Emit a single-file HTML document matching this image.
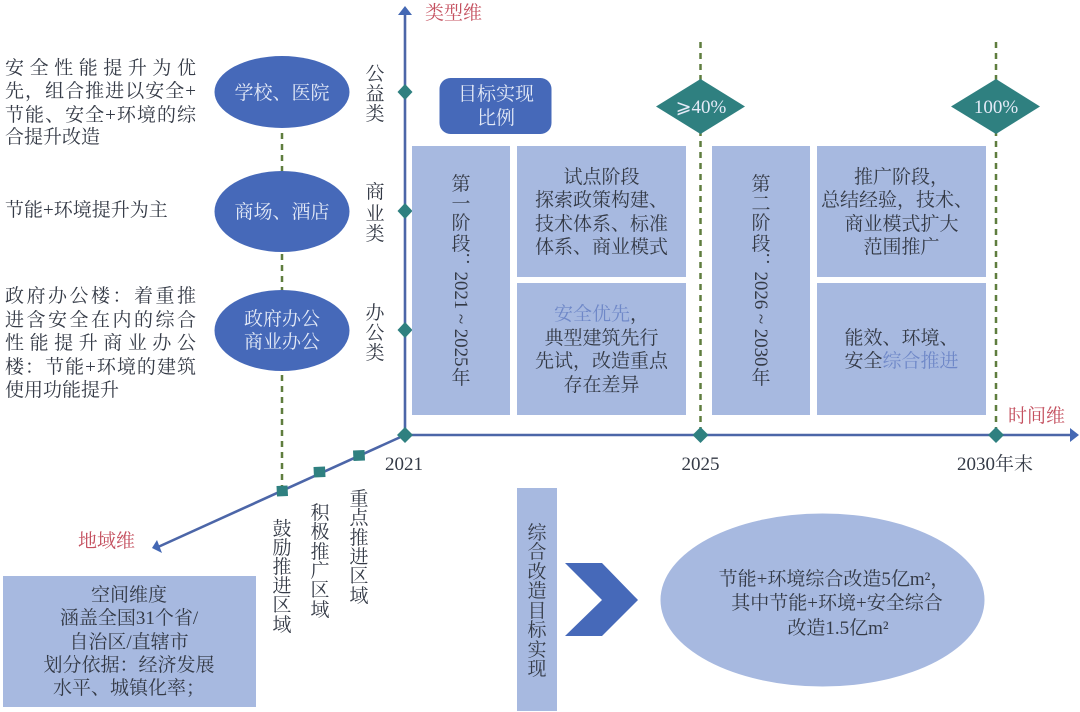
<!DOCTYPE html>
<html lang="zh">
<head>
<meta charset="utf-8">
<title>综合改造目标实现</title>
<style>
html,body{margin:0;padding:0;background:#fff;width:1080px;height:712px;overflow:hidden}
svg{display:block}
text{font-family:"Liberation Serif","Noto Serif CJK SC","DejaVu Serif",serif;font-size:19px;fill:#343a46}
.m{text-anchor:middle}
.w{fill:#e4eaf7}
.r{fill:#c4505f}
.b{fill:#6f88c8}
</style>
</head>
<body>
<svg width="1080" height="712" viewBox="0 0 1080 712" xmlns="http://www.w3.org/2000/svg">
<rect width="1080" height="712" fill="#fff"/>

<!-- dashed guides -->
<g stroke="#5f7d3e" stroke-width="2.5" stroke-dasharray="6 5" fill="none">
<line x1="282" y1="133" x2="282" y2="490"/>
<line x1="700.5" y1="42" x2="700.5" y2="435"/>
<line x1="996" y1="42" x2="996" y2="435"/>
</g>

<!-- axes -->
<g stroke="#4c66a8" stroke-width="2.6" fill="none">
<line x1="405" y1="435" x2="405" y2="12"/>
<line x1="405" y1="435" x2="1072" y2="435"/>
<line x1="405" y1="435" x2="158" y2="547"/>
</g>
<polygon points="405,6 412,15 398,15" fill="#4468b4"/>
<polygon points="1079,435 1070,428 1070,442" fill="#4468b4"/>
<polygon points="152,548 157,540 162,553" fill="#4468b4"/>

<!-- axis markers -->
<g fill="#2f8080">
<polygon points="405,84 412.5,92 405,100 397.5,92"/>
<polygon points="405,203 412.5,211 405,219 397.5,211"/>
<polygon points="405,322 412.5,330 405,338 397.5,330"/>
<polygon points="405,427 413,435 405,443 397,435"/>
<polygon points="700.5,427 708.5,435 700.5,443 692.5,435"/>
<polygon points="996,427 1004,435 996,443 988,435"/>
<polygon points="276.5,486 287.5,485.5 288,496 277,496.5"/>
<polygon points="313.5,467 325,466.5 325.5,477 314,477.5"/>
<polygon points="353,450.5 364.5,450 365,460.5 353.5,461"/>
<polygon points="700.5,79 745,106.5 700.5,134 656,106.5"/>
<polygon points="996,79 1040,106.5 996,134 951,106.5"/>
</g>

<!-- blue ovals -->
<g fill="#4669b9">
<ellipse cx="282" cy="92" rx="67.5" ry="36"/>
<ellipse cx="282" cy="211.5" rx="67.5" ry="40.5"/>
<ellipse cx="282" cy="330.5" rx="67.5" ry="40.5"/>
<rect x="439.5" y="78" width="112" height="56" rx="11"/>
<polygon points="565,563 602,563 638,600 602,636 565,636 602,600"/>
</g>

<!-- light blocks -->
<g fill="#a7b9e0">
<rect x="412" y="146" width="98" height="269"/>
<rect x="517" y="146" width="169" height="131"/>
<rect x="517" y="283" width="169" height="132"/>
<rect x="712" y="146" width="98" height="269"/>
<rect x="817" y="146" width="169" height="131"/>
<rect x="817" y="283" width="169" height="132"/>
<rect x="3" y="576" width="253" height="131"/>
<rect x="517" y="488" width="40" height="223"/>
<ellipse cx="822.5" cy="600" rx="162" ry="86.5"/>
</g>

<!-- left descriptions -->
<text x="5" y="74" textLength="191" lengthAdjust="spacing">安全性能提升为优</text>
<text x="5" y="97" textLength="191" lengthAdjust="spacing">先，组合推进以安全+</text>
<text x="5" y="121" textLength="191" lengthAdjust="spacing">节能、安全+环境的综</text>
<text x="5" y="143">合提升改造</text>
<text x="5" y="216">节能+环境提升为主</text>
<text x="5" y="302" textLength="191" lengthAdjust="spacing">政府办公楼：着重推</text>
<text x="5" y="326" textLength="191" lengthAdjust="spacing">进含安全在内的综合</text>
<text x="5" y="349" textLength="191" lengthAdjust="spacing">性能提升商业办公</text>
<text x="5" y="373" textLength="191" lengthAdjust="spacing">楼：节能+环境的建筑</text>
<text x="5" y="396">使用功能提升</text>

<!-- oval labels -->
<text class="m w" x="282" y="99">学校、医院</text>
<text class="m w" x="282" y="218">商场、酒店</text>
<text class="m w" x="282" y="325">政府办公</text>
<text class="m w" x="282" y="348">商业办公</text>

<!-- type axis labels -->
<text class="m" x="375 375 375" y="80 100 120">公益类</text>
<text class="m" x="375 375 375" y="198 220 240">商业类</text>
<text class="m" x="375 375 375" y="319 339 359">办公类</text>

<!-- dimension names -->
<text class="r" x="425" y="19">类型维</text>
<text class="r" x="1008" y="422">时间维</text>
<text class="r" x="78" y="547">地域维</text>

<!-- target labels -->
<text class="m w" x="496" y="100">目标实现</text>
<text class="m w" x="496" y="124">比例</text>
<text class="m w" x="701" y="113">⩾40%</text>
<text class="m w" x="996" y="113">100%</text>

<!-- stage one -->
<text class="m" x="461 461 461 461" y="190 210 229 250">第一阶段</text>
<text class="m" x="468" y="263">:</text>
<text class="m" transform="translate(455,319) rotate(90)" x="0" y="0" textLength="95" lengthAdjust="spacing">2021 ~ 2025</text>
<text class="m" x="461" y="384">年</text>

<text class="m" x="601.5" y="183">试点阶段</text>
<text class="m" x="601.5" y="206">探索政策构建、</text>
<text class="m" x="601.5" y="230">技术体系、标准</text>
<text class="m" x="601.5" y="253">体系、商业模式</text>

<text class="m" x="601.5" y="320"><tspan class="b">安全优先</tspan>，</text>
<text class="m" x="601.5" y="344">典型建筑先行</text>
<text class="m" x="601.5" y="367">先试，改造重点</text>
<text class="m" x="601.5" y="391">存在差异</text>

<!-- stage two -->
<text class="m" x="761 761 761 761" y="190 210 229 250">第二阶段</text>
<text class="m" x="768" y="263">:</text>
<text class="m" transform="translate(755,319) rotate(90)" x="0" y="0" textLength="95" lengthAdjust="spacing">2026 ~ 2030</text>
<text class="m" x="761" y="384">年</text>

<text class="m" x="901.5" y="183">推广阶段，</text>
<text class="m" x="897" y="206">总结经验，技术、</text>
<text class="m" x="901.5" y="230">商业模式扩大</text>
<text class="m" x="901.5" y="253">范围推广</text>

<text class="m" x="901.5" y="344">能效、环境、</text>
<text class="m" x="901.5" y="367">安全<tspan class="b">综合推进</tspan></text>

<!-- years -->
<text class="m" x="404" y="470">2021</text>
<text class="m" x="700.5" y="470">2025</text>
<text class="m" x="995" y="470">2030年末</text>

<!-- region labels -->
<text class="m" x="282 282 282 282 282 282" y="535 554 573 592 611 631">鼓励推进区域</text>
<text class="m" x="320 320 320 320 320 320" y="519 538 558 577 596 616">积极推广区域</text>
<text class="m" x="359 359 359 359 359 359" y="505 524 544 563 582 602">重点推进区域</text>

<!-- space box -->
<text class="m" x="129" y="601">空间维度</text>
<text class="m" x="129" y="624">涵盖全国31个省/</text>
<text class="m" x="129" y="648">自治区/直辖市</text>
<text class="m" x="129" y="671">划分依据：经济发展</text>
<text class="m" x="129" y="694">水平、城镇化率；</text>

<!-- bottom target -->
<text class="m" x="537 537 537 537 537 537 537 537" y="539 558 578 597 617 636 656 675">综合改造目标实现</text>
<text class="m" x="834" y="585">节能+环境综合改造5亿m²，</text>
<text class="m" x="837" y="609">其中节能+环境+安全综合</text>
<text class="m" x="838" y="634">改造1.5亿m²</text>
</svg>
</body>
</html>
